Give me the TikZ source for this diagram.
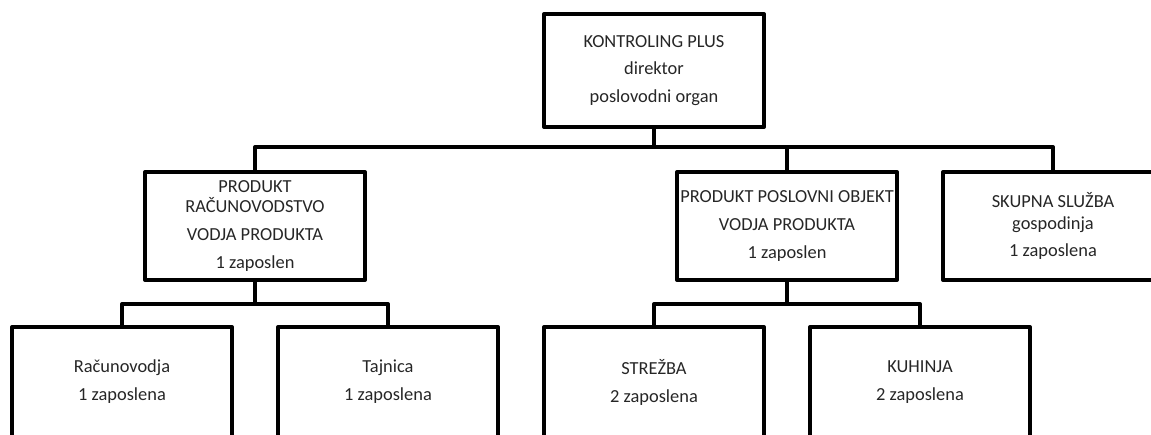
\documentclass[tikz,border=0pt]{standalone}
\usepackage{fontspec}
\setmainfont{Carlito}
\usetikzlibrary{positioning}

\begin{document}
\begin{tikzpicture}[
  x=1pt,y=1pt,
  node distance=23pt,
  unit/.style={draw,line width=2pt,line join=round,minimum width=110pt,minimum height=#1,inner sep=0pt,outer sep=0pt,align=center,font=\fontsize{9.2pt}{10pt}\selectfont,text=black!85},
  unit/.default=54pt,
  link/.style={line width=2pt,line join=round}
]
\useasboundingbox (0,0) rectangle (575.5,-217);
\node[unit=56.5pt] (kontroling) at (327,-35.25) {KONTROLING PLUS\\[3.75pt]direktor\\[3.75pt]poslovodni organ};
\node[unit] (racun) at (127.5,-113) {PRODUKT\\RAČUNOVODSTVO\\[4pt]VODJA PRODUKTA\\[4pt]1 zaposlen};
\node[unit] (objekt) at (393.5,-113) {PRODUKT POSLOVNI OBJEKT\\[4pt]VODJA PRODUKTA\\[4pt]1 zaposlen};
\node[unit,right=of objekt] (skupna) {SKUPNA SLUŽBA\\[0.65pt]gospodinja\\[3.5pt]1 zaposlena};
\node[unit=55pt] (racunovodja) at (61,-191) {Računovodja\\[4pt]1 zaposlena};
\node[unit=55pt,right=of racunovodja] (tajnica) {Tajnica\\[4pt]1 zaposlena};
\node[unit=55pt,right=of tajnica] (strezba) {STREŽBA\\[4pt]2 zaposlena};
\node[unit=55pt,right=of strezba] (kuhinja) {KUHINJA\\[4pt]2 zaposlena};
\draw[link] (kontroling.south) -- ++(0,-10) -| (racun.north);
\draw[link] (kontroling.south) -- ++(0,-10) -| (objekt.north);
\draw[link] (kontroling.south) -- ++(0,-10) -| (skupna.north);
\draw[link] (racun.south) -- ++(0,-12) -| (racunovodja.north);
\draw[link] (racun.south) -- ++(0,-12) -| (tajnica.north);
\draw[link] (objekt.south) -- ++(0,-12) -| (strezba.north);
\draw[link] (objekt.south) -- ++(0,-12) -| (kuhinja.north);
\end{tikzpicture}
\end{document}
